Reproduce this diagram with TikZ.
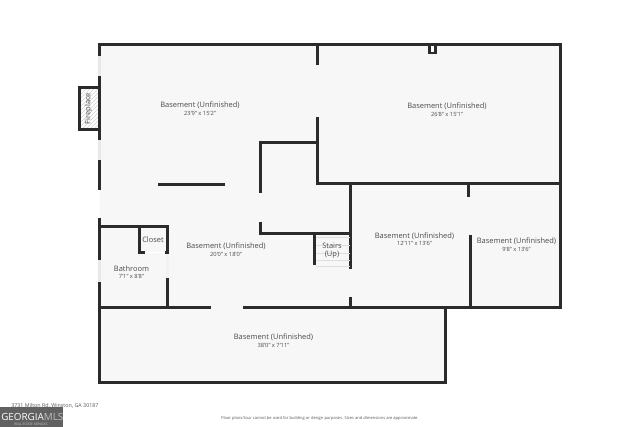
\documentclass[tikz,border=0pt]{standalone}
\usepackage{fontspec}
\setmainfont{Open Sans}
\usetikzlibrary{patterns}
\definecolor{floor}{HTML}{F7F7F7}
\definecolor{wallcol}{HTML}{2B2B2B}
\definecolor{labelcol}{HTML}{4A4A4A}
\tikzset{
  wall/.style={line width=2.25pt,draw=wallcol,line cap=butt},
  thickwall/.style={line width=2.25pt,draw=wallcol,line join=miter},
  window/.style={line width=2.25pt,draw=black!9},
  roomname/.style={text=labelcol,font=\fontsize{5.6}{6}\selectfont,inner sep=0pt},
  roomsize/.style={text=labelcol,font=\fontsize{4.3}{5}\selectfont,inner sep=0pt},
}
\begin{document}
\begin{tikzpicture}[x=.75pt,y=-.75pt]
\useasboundingbox (0,0) rectangle (640,427);
\fill[white] (0,0) rectangle (640,427);
% floor
\fill[floor] (99.5,44.5) -- (560.5,44.5) -- (560.5,307.5) -- (445.5,307.5) -- (445.5,382.5) -- (99.5,382.5) -- cycle;
% fireplace
\draw[thickwall,pattern=north east lines,pattern color=black!18] (99.5,87.5) -- (79.5,87.5) -- (79.5,129.5) -- (99.5,129.5);
% outer walls
\draw[thickwall] (99.5,56) -- (99.5,44.5) -- (560.5,44.5) -- (560.5,307.5) -- (445.5,307.5) -- (445.5,382.5) -- (99.5,382.5) -- (99.5,282);
\foreach \ya/\yb in {76.5/140,160/190.5,218/260}
  \draw[wall] (99.5,\ya) -- (99.5,\yb);
\foreach \ya/\yb in {56/76.5,140/160,260/282}
  \draw[window] (99.5,\ya) -- (99.5,\yb);
% inner walls, upper part
\draw[wall] (317.5,44.5) -- (317.5,65);
\draw[wall] (317.5,117) -- (317.5,183.5) -- (560.5,183.5);
\draw[wall] (317.5,142.5) -- (260.5,142.5) -- (260.5,193);
\draw[wall] (158,184.5) -- (225,184.5);
\draw[wall] (260.5,221.7) -- (260.5,233.5) -- (351.5,233.5);
\draw[wall] (350.5,183.5) -- (350.5,269);
\draw[wall] (350.5,297) -- (350.5,307.5);
\draw[wall] (468.5,183.5) -- (468.5,197);
\draw[wall] (470.5,235) -- (470.5,307.5);
\draw[wall] (243.3,307.5) -- (560.5,307.5);
\draw[wall] (99.5,307.5) -- (211,307.5);
% chimney
\draw[line width=2pt,draw=wallcol,fill=white] (429.3,44.5) rectangle (435.7,53);
% stairs
\foreach \y in {237,245,253,260,266}
  \draw[black!13,line width=.4pt] (315.5,\y) -- (349.5,\y);
\draw[wall] (314.5,233.5) -- (314.5,265.5);
% bathroom and closet
\draw[wall] (99.5,226.5) -- (168.5,226.5);
\draw[wall] (139.5,226.5) -- (139.5,252.5) -- (145,252.5);
\draw[wall] (167.5,226.5) -- (167.5,254.5);
\draw[wall] (165,252.5) -- (167.5,252.5);
\draw[wall] (167.5,278) -- (167.5,307.5);
\draw[line width=1pt,draw=white] (145,252.5) -- (165,252.5);
\draw[window,draw=black!5] (167.5,254.5) -- (167.5,278);
% labels
\node[roomname] (room1) at (200,105.5) {Basement (Unfinished)};
\node[roomsize] (size1) at (200,113.7) {23'9" x 15'2"};
\node[roomname] (room2) at (447,106.2) {Basement (Unfinished)};
\node[roomsize] (size2) at (447,114.2) {26'8" x 15'1"};
\node[roomname] (room3) at (226,246.5) {Basement (Unfinished)};
\node[roomsize] (size3) at (226,254.2) {20'0" x 18'0"};
\node[roomname] (room4) at (414.5,236) {Basement (Unfinished)};
\node[roomsize] (size4) at (414.5,243.7) {12'11" x 13'6"};
\node[roomname] (room5) at (516.5,241.5) {Basement (Unfinished)};
\node[roomsize] (size5) at (516.5,249.2) {9'8" x 13'6"};
\node[roomname] (room6) at (273.5,337.5) {Basement (Unfinished)};
\node[roomsize] (size6) at (273.5,345.7) {38'0" x 7'11"};
\node[roomname] (bath) at (131.5,268.5) {Bathroom};
\node[roomsize] (bathsize) at (131.5,276.2) {7'1" x 8'8"};
\node[roomname] (closet) at (153,239.5) {Closet};
\node[roomname] (stairs) at (332,245.5) {Stairs};
\node[roomname] (up) at (332,255) {(Up)};
\node[roomname,rotate=90] (fire) at (88.5,108.5) {Fireplace};
% footer
\node[text=black!65,font=\fontsize{3.04}{4}\selectfont,inner sep=0pt] (note) at (320,418.5)
  {Floor plans/tour cannot be used for building or design purposes. Sizes and dimensions are approximate.};
\node[text=black!65,font=\fontsize{4}{5}\selectfont,inner sep=0pt,anchor=west] (addr) at (11,405.5)
  {3731 Milton Rd, Winston, GA 30187};
\fill[black!62] (0,407.5) rectangle (63,427);
\node[text=white,font=\fontsize{7.4}{8}\selectfont,inner sep=0pt,anchor=west] (logo) at (1,416.5)
  {GEORGIA\textcolor{white!75!black}{MLS}};
\node[text=white!80!black,font=\fontsize{2.4}{3}\selectfont,inner sep=0pt] (logosub) at (31,424)
  {REAL ESTATE SERVICES};
\end{tikzpicture}
\end{document}
